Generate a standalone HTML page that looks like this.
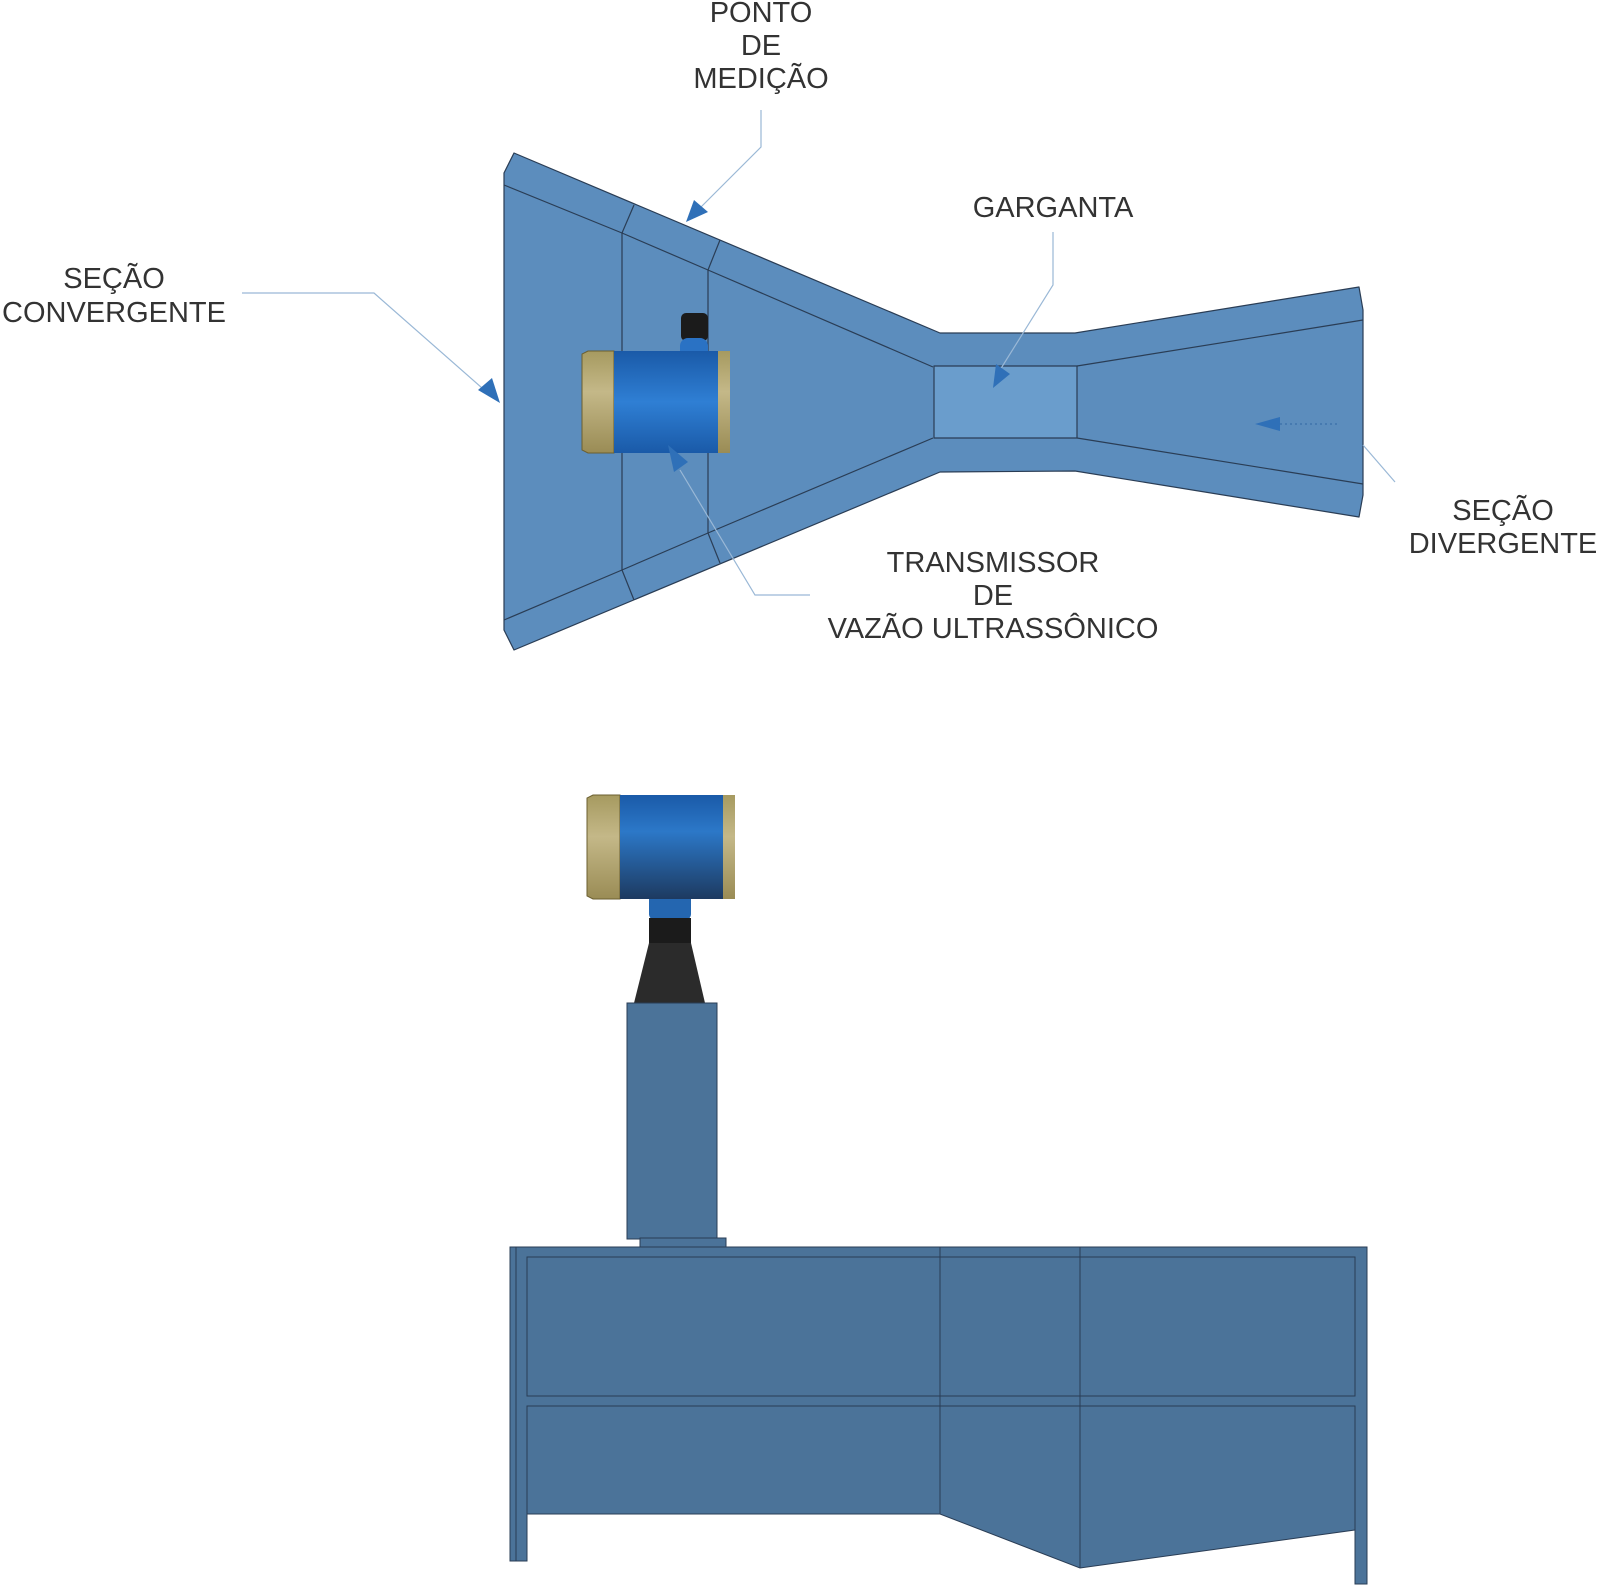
<!DOCTYPE html>
<html><head><meta charset="utf-8"><style>
html,body{margin:0;padding:0;background:#fff;}
svg{display:block;}
text{font-family:"Liberation Sans",sans-serif;font-size:29px;fill:#333;text-anchor:middle;}
</style></head><body>
<svg width="1600" height="1594" viewBox="0 0 1600 1594" xmlns="http://www.w3.org/2000/svg">
<defs>
<linearGradient id="bl" x1="0" y1="0" x2="0" y2="1">
<stop offset="0" stop-color="#1a5aa8"/><stop offset="0.5" stop-color="#2f7fd4"/><stop offset="1" stop-color="#1a5aa8"/></linearGradient>
<linearGradient id="bl2" x1="0" y1="0" x2="0" y2="1">
<stop offset="0" stop-color="#1a5aa8"/><stop offset="0.35" stop-color="#2c78c8"/><stop offset="1" stop-color="#1d3a60"/></linearGradient>
<linearGradient id="gd" x1="0" y1="0" x2="0" y2="1">
<stop offset="0" stop-color="#a69a60"/><stop offset="0.4" stop-color="#c4b888"/><stop offset="1" stop-color="#9a8c55"/></linearGradient>
</defs>
<g stroke="#2a3d55" stroke-width="1.2" stroke-linejoin="round">
<polygon fill="#5c8dbd" points="514,153 940,333 1075,333 1359,287 1363,310 1363,495 1359,517 1075,471 940,472 514,650 504,630 504,173"/>
<polyline fill="none" points="504,185 622,233 708,270 933,367"/>
<polyline fill="none" points="504,620 622,570 708,533 933,438"/>
<line x1="634" y1="205" x2="622" y2="233"/><line x1="622" y1="233" x2="622" y2="570"/><line x1="622" y1="570" x2="634" y2="600"/>
<line x1="720" y1="240" x2="708" y2="270"/><line x1="708" y1="270" x2="708" y2="533"/><line x1="708" y1="533" x2="720" y2="563"/>
<rect x="934" y="366" width="143" height="72" fill="#6a9dcc"/>
<line x1="1077" y1="366" x2="1363" y2="320"/><line x1="1077" y1="438" x2="1363" y2="484"/>
</g>
<rect x="681" y="313" width="27" height="28" rx="5" fill="#1b1b1b"/>
<rect x="680" y="338" width="28" height="24" rx="8" fill="#2a72c4"/>
<polygon points="588,351 614,351 614,453 588,453 582,450 582,354" fill="url(#gd)" stroke="#6b5f30" stroke-width="1"/>
<rect x="614" y="351" width="104" height="102" fill="url(#bl)"/>
<rect x="718" y="351" width="12" height="102" fill="url(#gd)"/>
<g stroke="#9ab8d6" stroke-width="1.2" fill="none">
<polyline points="242,293 374,293 490,395"/>
<polyline points="761,110 761,147 700,208"/>
<polyline points="1053,232 1053,285 1000,370"/>
<polyline points="810,595 755,595 680,470"/>
<polyline points="1363,445 1395,482"/>
<line x1="1280" y1="424" x2="1337" y2="424" stroke="#3a6fa8" stroke-dasharray="2,3"/>
</g>
<g fill="#2f70b8">
<polygon points="500,403 478,390 492,378"/>
<polygon points="686,222 694,200 708,212"/>
<polygon points="993,388 996,364 1010,374"/>
<polygon points="668,445 688,462 674,472"/>
<polygon points="1255,424 1280,417 1280,431"/>
</g>
<text x="761" y="22">PONTO</text><text x="761" y="55">DE</text><text x="761" y="88">MEDIÇÃO</text>
<text x="114" y="288">SEÇÃO</text><text x="114" y="322">CONVERGENTE</text>
<text x="1053" y="217">GARGANTA</text>
<text x="1503" y="520">SEÇÃO</text><text x="1503" y="553">DIVERGENTE</text>
<text x="993" y="572">TRANSMISSOR</text><text x="993" y="605">DE</text><text x="993" y="638">VAZÃO ULTRASSÔNICO</text>
<rect x="649" y="893" width="42" height="27" rx="6" fill="#2466b0"/>
<rect x="649" y="918" width="42" height="26" fill="#1b1b1b"/>
<polygon points="649,943 691,943 705,1003 634,1003" fill="#2b2b2b"/>
<polygon points="593,795 620,795 620,899 593,899 587,896 587,798" fill="url(#gd)" stroke="#6b5f30" stroke-width="1"/>
<rect x="620" y="795" width="103" height="104" fill="url(#bl2)"/>
<rect x="723" y="795" width="12" height="104" fill="url(#gd)"/>
<g stroke="#2a3d55" stroke-width="1" fill="#4b7399">
<rect x="627" y="1003" width="90" height="236"/>
<rect x="640" y="1238" width="86" height="10"/>
<polygon points="510,1247 1367,1247 1367,1584 1355,1584 1355,1530 1080,1568 940,1514 527,1514 527,1561 510,1561"/>
<rect x="527" y="1257" width="828" height="139" fill="none"/>
<polyline points="527,1514 527,1406 1355,1406 1355,1530" fill="none"/>
<line x1="940" y1="1247" x2="940" y2="1514"/>
<line x1="1080" y1="1247" x2="1080" y2="1568"/>
<line x1="516" y1="1247" x2="516" y2="1561"/>
</g>
</svg>
</body></html>
